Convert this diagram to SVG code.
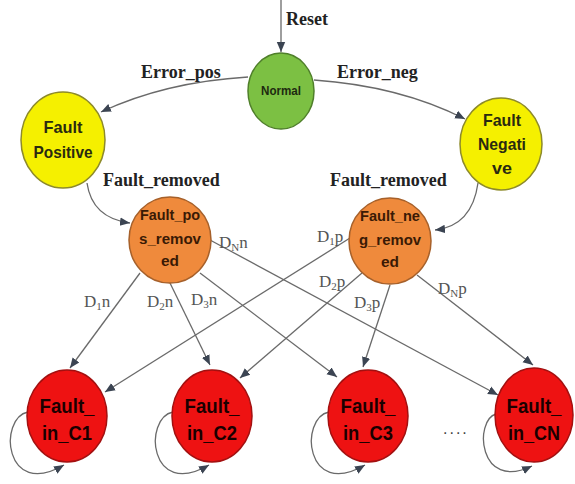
<svg xmlns="http://www.w3.org/2000/svg" width="575" height="484" viewBox="0 0 575 484">
<defs>
<marker id="ah" viewBox="0 0 10 10" refX="10" refY="5" markerWidth="10" markerHeight="10" markerUnits="userSpaceOnUse" orient="auto"><path d="M0,0.8 L10,5 L0,9.2 z" fill="#3b4452"/></marker>
<style>
.edge{fill:none;stroke:#6a6a6a;stroke-width:1.3;marker-end:url(#ah)}
.lbl{font-family:"Liberation Serif",serif;font-weight:bold;font-size:18px;fill:#222}
.dl{font-family:"Liberation Serif",serif;font-size:17px;fill:#555}
.sub{font-size:11px}
.nt{font-family:"Liberation Sans",Arial,sans-serif;font-weight:bold;text-anchor:middle}
.green{fill:#7cc043;stroke:#4f7f2a;stroke-width:1.5}
.yellow{fill:#f5f000;stroke:#8d8a2a;stroke-width:1.5}
.orange{fill:#ef8a3c;stroke:#a6602a;stroke-width:1.5}
.red{fill:#ee1212;stroke:#a31010;stroke-width:1.5}
</style>
</defs>
<rect width="575" height="484" fill="#ffffff"/>
<g id="connectors">
<path class="edge" d="M281,0 L281,52"/>
<path class="edge" d="M248,77 Q165,82 101,112"/>
<path class="edge" d="M314,80 Q400,86 465,119"/>
<path class="edge" d="M87,183 Q92,218 130,223"/>
<path class="edge" d="M478,183 Q472,226 435,230"/>
<path class="edge" d="M140,273 L70,368"/>
<path class="edge" d="M170,283 L210,365"/>
<path class="edge" d="M200,273 L337,377"/>
<path class="edge" d="M210,240 L498,395"/>
<path class="edge" d="M350,238 L105,392"/>
<path class="edge" d="M362,273 L240,378"/>
<path class="edge" d="M390,285 L363,367"/>
<path class="edge" d="M417,275 L533,365"/>
<path class="edge" d="M28,412 C-2,418 4,500 64,465"/>
<path class="edge" d="M173,412 C143,418 149,500 209,465"/>
<path class="edge" d="M329,412 C299,418 305,500 365,465"/>
<path class="edge" d="M496,414 C474,420 478,492 532,466"/>
<text class="lbl" x="286" y="25">Reset</text>
<text class="lbl" x="141" y="78">Error_pos</text>
<text class="lbl" x="337" y="78">Error_neg</text>
<text class="lbl" x="103" y="186">Fault_removed</text>
<text class="lbl" x="330" y="186">Fault_removed</text>
<text class="dl" x="84" y="307">D<tspan class="sub" dy="3">1</tspan><tspan dy="-3">n</tspan></text>
<text class="dl" x="147" y="307">D<tspan class="sub" dy="3">2</tspan><tspan dy="-3">n</tspan></text>
<text class="dl" x="191" y="305">D<tspan class="sub" dy="3">3</tspan><tspan dy="-3">n</tspan></text>
<text class="dl" x="219" y="248">D<tspan class="sub" dy="3">N</tspan><tspan dy="-3">n</tspan></text>
<text class="dl" x="317" y="242">D<tspan class="sub" dy="3">1</tspan><tspan dy="-3">p</tspan></text>
<text class="dl" x="319" y="287">D<tspan class="sub" dy="3">2</tspan><tspan dy="-3">p</tspan></text>
<text class="dl" x="354" y="308">D<tspan class="sub" dy="3">3</tspan><tspan dy="-3">p</tspan></text>
<text class="dl" x="438" y="294">D<tspan class="sub" dy="3">N</tspan><tspan dy="-3">p</tspan></text>
<text x="443" y="434" font-family="Liberation Sans,sans-serif" font-size="16" fill="#444" letter-spacing="2">....</text>
</g>
<g id="normal">
<ellipse class="green" cx="281" cy="91" rx="33" ry="38"/>
<text class="nt" x="281" y="95" font-size="12" fill="#1e2a10" textLength="40" lengthAdjust="spacingAndGlyphs">Normal</text>
</g>
<g id="fault_positive">
<ellipse class="yellow" cx="63" cy="140" rx="42" ry="48"/>
<text class="nt" x="63" y="133" font-size="17" fill="#2a2a10" textLength="39" lengthAdjust="spacingAndGlyphs">Fault</text>
<text class="nt" x="63" y="158" font-size="17" fill="#2a2a10" textLength="59" lengthAdjust="spacingAndGlyphs">Positive</text>
</g>
<g id="fault_negative">
<ellipse class="yellow" cx="501" cy="144" rx="41" ry="46"/>
<text class="nt" x="502" y="126" font-size="17" fill="#2a2a10" textLength="38" lengthAdjust="spacingAndGlyphs">Fault</text>
<text class="nt" x="502" y="150" font-size="17" fill="#2a2a10" textLength="48" lengthAdjust="spacingAndGlyphs">Negati</text>
<text class="nt" x="502" y="174" font-size="17" fill="#2a2a10" textLength="20" lengthAdjust="spacingAndGlyphs">ve</text>
</g>
<g id="fault_pos_removed">
<ellipse class="orange" cx="170" cy="240" rx="41" ry="43"/>
<text class="nt" x="170" y="220" font-size="14" fill="#3a1a05" textLength="60" lengthAdjust="spacingAndGlyphs">Fault_po</text>
<text class="nt" x="170" y="244" font-size="14" fill="#3a1a05" textLength="62" lengthAdjust="spacingAndGlyphs">s_remov</text>
<text class="nt" x="170" y="266" font-size="14" fill="#3a1a05" textLength="18" lengthAdjust="spacingAndGlyphs">ed</text>
</g>
<g id="fault_neg_removed">
<ellipse class="orange" cx="390" cy="241" rx="41" ry="43"/>
<text class="nt" x="390" y="221" font-size="14" fill="#3a1a05" textLength="60" lengthAdjust="spacingAndGlyphs">Fault_ne</text>
<text class="nt" x="390" y="245" font-size="14" fill="#3a1a05" textLength="62" lengthAdjust="spacingAndGlyphs">g_remov</text>
<text class="nt" x="390" y="267" font-size="14" fill="#3a1a05" textLength="18" lengthAdjust="spacingAndGlyphs">ed</text>
</g>
<g id="fault_in_c1">
<ellipse class="red" cx="67" cy="416" rx="40" ry="46"/>
<text class="nt" x="67" y="413" font-size="21" fill="#1a0000" textLength="55" lengthAdjust="spacingAndGlyphs">Fault_</text>
<text class="nt" x="67" y="440" font-size="21" fill="#1a0000" textLength="50" lengthAdjust="spacingAndGlyphs">in_C1</text>
</g>
<g id="fault_in_c2">
<ellipse class="red" cx="212" cy="416" rx="40" ry="46"/>
<text class="nt" x="212" y="413" font-size="21" fill="#1a0000" textLength="55" lengthAdjust="spacingAndGlyphs">Fault_</text>
<text class="nt" x="212" y="440" font-size="21" fill="#1a0000" textLength="50" lengthAdjust="spacingAndGlyphs">in_C2</text>
</g>
<g id="fault_in_c3">
<ellipse class="red" cx="368" cy="416" rx="40" ry="46"/>
<text class="nt" x="368" y="413" font-size="21" fill="#1a0000" textLength="55" lengthAdjust="spacingAndGlyphs">Fault_</text>
<text class="nt" x="368" y="440" font-size="21" fill="#1a0000" textLength="50" lengthAdjust="spacingAndGlyphs">in_C3</text>
</g>
<g id="fault_in_cn">
<ellipse class="red" cx="534" cy="415" rx="39" ry="47"/>
<text class="nt" x="534" y="413" font-size="21" fill="#1a0000" textLength="55" lengthAdjust="spacingAndGlyphs">Fault_</text>
<text class="nt" x="534" y="440" font-size="21" fill="#1a0000" textLength="52" lengthAdjust="spacingAndGlyphs">in_CN</text>
</g>
</svg>
